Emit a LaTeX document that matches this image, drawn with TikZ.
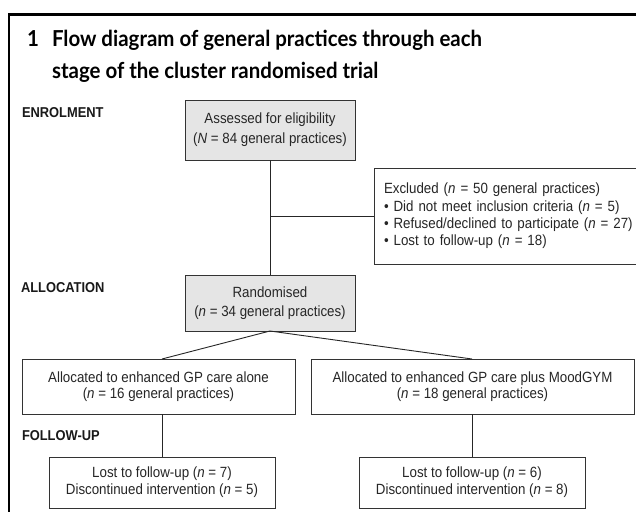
\documentclass[tikz,border=0pt]{standalone}
\usepackage{fontspec}
\setmainfont{Liberation Sans}[FakeStretch=0.9]
\newfontfamily\titlefont{Lato}[FakeStretch=0.93]
\begin{document}
\begin{tikzpicture}[x=1pt,y=-1pt,
  every node/.style={inner sep=0pt, outer sep=0pt},
  fbox/.style={draw=black!80, line width=0.9pt, align=center, text=black!85},
  gbox/.style={fbox, fill=black!10},
  conn/.style={draw=black!85, line width=0.9pt},
  stagelabel/.style={anchor=base west, font=\fontsize{14.3}{15}\selectfont\bfseries, text=black!90},
  titletext/.style={anchor=base west, font=\titlefont\bfseries\fontsize{22}{24}\selectfont, text=black},
  ]
\useasboundingbox (0,0) rectangle (636,511);
\fill[white] (0,0) rectangle (636,511);
% frame
\draw[line width=2.8pt] (640,14.3) -- (9,14.3) -- (9,515);
% title
\node[titletext] (tnum) at (27,47) {1};
\node[titletext] (tl1) at (52,47) {Flow diagram of general practices through each};
\node[titletext] (tl2) at (52,78) {stage of the cluster randomised trial};
% stage labels
\node[stagelabel] (enr) at (22,117) {ENROLMENT};
\node[stagelabel] (alloc) at (21,292) {ALLOCATION};
\node[stagelabel] (fol) at (22,440) {FOLLOW-UP};
% boxes
\node[gbox, minimum width=170, minimum height=60, font=\fontsize{14.8}{20}\selectfont] (elig) at (270,130)
  {Assessed for eligibility\\(\textit{N} = 84 general practices)};
\node[fbox, anchor=west, text width=250, align=left, inner xsep=10, minimum height=96,
  font=\fontsize{14.8}{17.4}\selectfont] (excl) at (374,216)
  {Excluded (\textit{n} = 50 general practices)\\
   • Did not meet inclusion criteria (\textit{n} = 5)\\
   • Refused/declined to participate (\textit{n} = 27)\\
   • Lost to follow-up (\textit{n} = 18)};
\node[gbox, minimum width=170, minimum height=56, font=\fontsize{14.8}{19}\selectfont] (rand) at (270,303)
  {Randomised\\(\textit{n} = 34 general practices)};
\node[fbox, minimum width=273, minimum height=55, font=\fontsize{14.8}{16}\selectfont] (armA) at (158.5,386.5)
  {Allocated to enhanced GP care alone\\(\textit{n} = 16 general practices)};
\node[fbox, minimum width=323, minimum height=55, font=\fontsize{14.8}{16}\selectfont] (armB) at (472.5,386.5)
  {Allocated to enhanced GP care plus MoodGYM\\(\textit{n} = 18 general practices)};
\node[fbox, minimum width=226, minimum height=51, font=\fontsize{14.8}{17}\selectfont] (fuA) at (162,482.5)
  {Lost to follow-up (\textit{n} = 7)\\Discontinued intervention (\textit{n} = 5)};
\node[fbox, minimum width=226, minimum height=51, font=\fontsize{14.8}{17}\selectfont] (fuB) at (472,482.5)
  {Lost to follow-up (\textit{n} = 6)\\Discontinued intervention (\textit{n} = 8)};
% connectors
\coordinate (branch) at (elig.south |- excl.west);
\draw[conn] (elig.south) -- (rand.north);
\draw[conn] (branch) -- (excl.west);
\coordinate (topA) at (fuA.north |- armA.north);
\coordinate (topB) at (fuB.north |- armB.north);
\draw[conn] (topA) -- (rand.south) -- (topB);
\draw[conn] (armA.south -| fuA.north) -- (fuA.north);
\draw[conn] (armB.south -| fuB.north) -- (fuB.north);
\end{tikzpicture}
\end{document}
